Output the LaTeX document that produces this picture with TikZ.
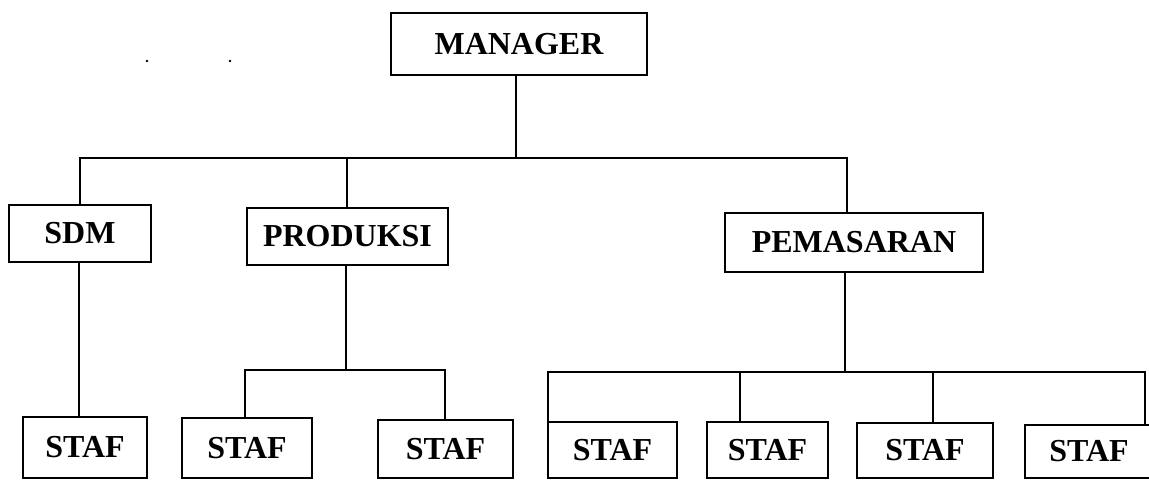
\documentclass[tikz,border=0pt]{standalone}
\usepackage{fontspec}
\setmainfont{Liberation Serif}
\begin{document}
\begin{tikzpicture}[x=1pt,y=-1pt,
  box/.style={draw=black, line width=2.4pt, fill=white, inner sep=0pt,
    font=\bfseries\fontsize{32}{38}\selectfont},
  conn/.style={draw=black, line width=2.2pt},
  speck/.style={fill=black, draw=none}]
\useasboundingbox (0,0) rectangle (1149,480);
\clip (0,0) rectangle (1149,480);
\fill[white] (0,0) rectangle (1149,480);

% specks
\fill[speck] (147,61) circle (1.3);
\fill[speck] (230,61) circle (1.3);

% boxes
\node[box, minimum width=256pt, minimum height=62pt] (mgr) at (519,44) {MANAGER};
\node[box, minimum width=142pt, minimum height=57pt] (sdm) at (80,233.5) {SDM};
\node[box, minimum width=201pt, minimum height=57pt] (prod) at (347.5,236.5) {PRODUKSI};
\node[box, minimum width=258pt, minimum height=59pt] (pem) at (854,242.5) {PEMASARAN};
\node[box, minimum width=124pt, minimum height=61pt] (s1) at (85,447.5) {STAF};
\node[box, minimum width=130pt, minimum height=60pt] (s2) at (247,448) {STAF};
\node[box, minimum width=135pt, minimum height=58pt] (s3) at (445.5,449) {STAF};
\node[box, minimum width=129pt, minimum height=56pt] (s4) at (612.5,450) {STAF};
\node[box, minimum width=121pt, minimum height=56pt] (s5) at (767.5,450) {STAF};
\node[box, minimum width=136pt, minimum height=55pt] (s6) at (925,450.5) {STAF};
\node[box, minimum width=128pt, minimum height=53pt] (s7) at (1089,451.5) {STAF};

% junction coordinates
\coordinate (j0) at (516,158);
\coordinate (bL) at (80,158);
\coordinate (b1) at (347,158);
\coordinate (bR) at (847,158);
\coordinate (pL) at (245,370);
\coordinate (pR) at (445,370);
\coordinate (p0) at (346,370);
\coordinate (qL) at (548,372);
\coordinate (qR) at (1145,372);
\coordinate (q0) at (845,372);
\coordinate (q1) at (740,372);
\coordinate (q2) at (933,372);

% connectors
\draw[conn] (mgr.south -| j0) -- (j0);
\draw[conn] (sdm.north -| bL) -- (bL) -- (bR) -- (pem.north -| bR);
\draw[conn] (prod.north -| b1) -- (b1);
\draw[conn] (sdm.south -| 79,0) -- (s1.north -| 79,0);
\draw[conn] (prod.south -| p0) -- (p0);
\draw[conn] (s2.north -| pL) -- (pL) -- (pR) -- (s3.north -| pR);
\draw[conn] (pem.south -| q0) -- (q0);
\draw[conn] (s4.north -| qL) -- (qL) -- (qR) -- (s7.north -| qR);
\draw[conn] (q1) -- (q1 |- s5.north);
\draw[conn] (q2) -- (q2 |- s6.north);
\end{tikzpicture}
\end{document}
